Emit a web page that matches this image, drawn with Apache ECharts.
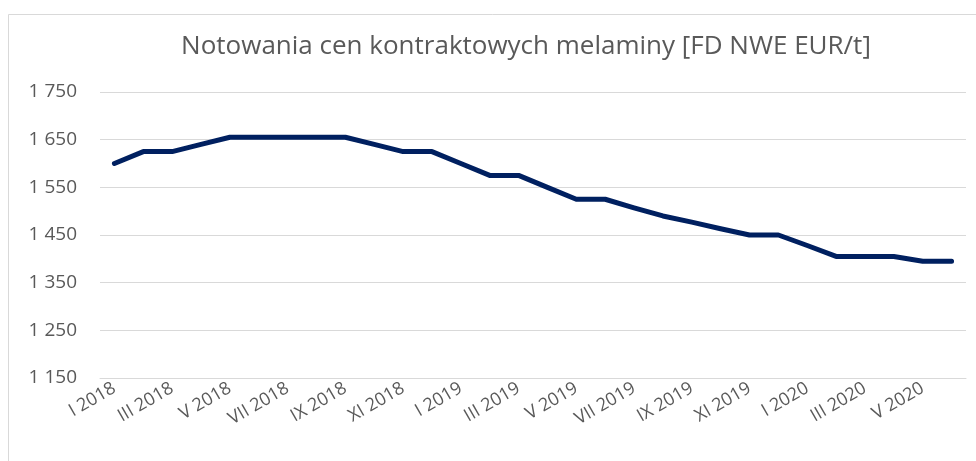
<!DOCTYPE html>
<html>
<head>
<meta charset="utf-8">
<script src="https://cdn.jsdelivr.net/npm/echarts@6/dist/echarts.min.js"></script>
<style>html,body{margin:0;padding:0;background:#fff;}#c{width:976px;height:461px;}</style>
</head>
<body>
<div id="c"></div>
<script>
const titleText = 'Notowania cen kontraktowych melaminy [FD NWE EUR/t]';
const categories = [
  'I 2018','II 2018','III 2018','IV 2018','V 2018','VI 2018','VII 2018','VIII 2018','IX 2018','X 2018','XI 2018','XII 2018',
  'I 2019','II 2019','III 2019','IV 2019','V 2019','VI 2019','VII 2019','VIII 2019','IX 2019','X 2019','XI 2019','XII 2019',
  'I 2020','II 2020','III 2020','IV 2020','V 2020','VI 2020'
];
const prices = [
  1600,1625,1625,1640,1655,1655,1655,1655,1655,1640,1625,1625,
  1600,1575,1575,1550,1525,1525,1507,1490,1477,1463,1450,1450,
  1428,1405,1405,1405,1395,1395
];
const yMin = 1150, yMax = 1750, yStep = 100;

const fmt = v => String(v).replace(/\B(?=(\d{3})+(?!\d))/g, ' ');
const chart = echarts.init(document.getElementById('c'), null, {renderer:'canvas'});
chart.setOption({
  animation:false,
  backgroundColor:'#fff',
  graphic:[{type:'rect',shape:{x:8.5,y:14.5,width:1000,height:500},style:{fill:null,stroke:'#d9d9d9',lineWidth:1},silent:true}],
  title:{text:titleText,left:521,textAlign:'center',top:29,
    textStyle:{fontFamily:'Open Sans',fontWeight:'normal',fontSize:26,color:'#595959'}},
  grid:{left:100,right:10,top:92,bottom:83,containLabel:false},
  xAxis:{type:'category',data:categories,boundaryGap:true,
    axisLine:{lineStyle:{color:'#d9d9d9',width:1}},axisTick:{show:false},
    axisLabel:{interval:1,rotate:30,margin:9,fontFamily:'Open Sans',fontSize:18,color:'#595959'}},
  yAxis:{type:'value',min:yMin,max:yMax,interval:yStep,
    axisLine:{show:false},axisTick:{show:false},
    splitLine:{lineStyle:{color:'#d9d9d9',width:1}},
    axisLabel:{formatter:fmt,margin:23,fontFamily:'Open Sans',fontSize:19,color:'#595959'}},
  series:[{type:'line',data:prices,symbol:'none',
    lineStyle:{color:'#002060',width:5,cap:'round',join:'round'}}]
});
</script>
</body>
</html>
